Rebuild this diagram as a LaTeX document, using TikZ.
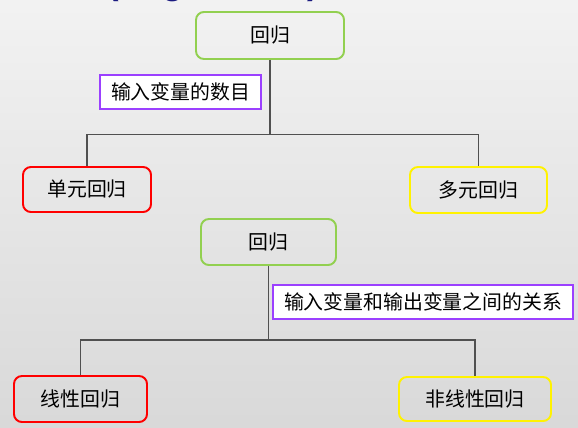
\documentclass[tikz,border=0pt]{standalone}
\usepackage{fontspec}
\newfontfamily\cjk{Noto Sans CJK SC}
\setsansfont{Liberation Sans}
\usetikzlibrary{positioning, calc}

\definecolor{boxgreen}{HTML}{92D050}
\definecolor{boxpurple}{HTML}{9B40FF}
\definecolor{titleblue}{HTML}{1A1A80}
\definecolor{linkgray}{HTML}{505050}

\begin{document}
\begin{tikzpicture}[
    box/.style={draw, line width=1.1pt, rounded corners=4.5pt,
                inner sep=0pt, font=\cjk\fontsize{11.3}{13}\selectfont},
    topic/.style={box, draw=boxgreen},
    leafred/.style={box, draw=red},
    leafyellow/.style={box, draw=yellow},
    crit/.style={draw=boxpurple, fill=white, line width=1.1pt, inner sep=0pt,
                 font=\cjk\fontsize{11.3}{13}\selectfont},
    link/.style={draw=linkgray, line width=0.85pt}
  ]
  % background
  \shade[top color=black!5, bottom color=black!15] (0,0) rectangle (11.56,8.54);
  \useasboundingbox (0,0) rectangle (11.56,8.54);

  % title, cut at the top edge
  \begin{scope}
    \clip (0,0) rectangle (11.56,8.54);
    \node[anchor=base, text=titleblue, font=\sffamily\bfseries\fontsize{19.7}{22}\selectfont]
      (title) at (4.26, 8.655) {(Regression)};
  \end{scope}

  % first tree
  \node[topic, minimum width=2.96cm, minimum height=0.94cm] (reg1) at (5.40, 7.83) {回归};
  \node[crit, minimum width=3.22cm, minimum height=0.68cm] (q1) at (3.61, 6.70) {输入变量的数目};
  \node[leafred, minimum width=2.56cm, minimum height=0.90cm] (uni) at (1.74, 4.75) {单元回归};
  \node[leafyellow, minimum width=2.74cm, minimum height=0.92cm] (multi) at (9.57, 4.74) {多元回归};

  \coordinate (j1) at (reg1.south |- 0,5.85);
  \draw[link] (reg1.south) -- (j1);
  \draw[link] (uni.north) |- (j1) -| (multi.north);

  % second tree
  \node[topic, minimum width=2.70cm, minimum height=0.92cm] (reg2) at (5.37, 3.70) {回归};
  \node[crit, minimum width=6.00cm, minimum height=0.68cm] (q2) at (8.46, 2.50) {输入变量和输出变量之间的关系};
  \node[leafred, minimum width=2.66cm, minimum height=0.92cm] (lin) at (1.61, 0.56) {线性回归};
  \node[leafyellow, minimum width=3.04cm, minimum height=0.88cm] (nonlin) at (9.50, 0.56) {非线性回归};

  \coordinate (j2) at (reg2.south |- 0,1.74);
  \draw[link] (reg2.south) -- (j2);
  \draw[link] (lin.north) |- (j2) -| (nonlin.north);
\end{tikzpicture}
\end{document}
